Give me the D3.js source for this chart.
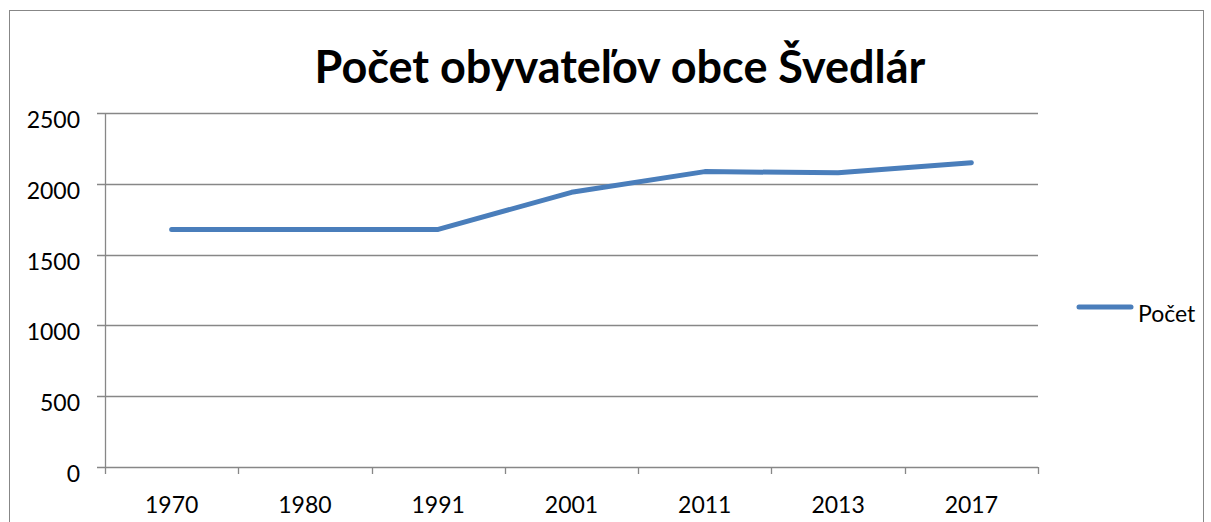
<!DOCTYPE html>
<html>
<head>
<meta charset="utf-8">
<script src="https://cdn.jsdelivr.net/npm/d3@7"></script>
<style>
  body { margin: 0; background: #fff; }
  text { font-family: Lato, "Open Sans", sans-serif; fill: #000; }
</style>
</head>
<body>
<svg id="chart" width="1211" height="522"></svg>
<script>
// data
var years = ['1970', '1980', '1991', '2001', '2011', '2013', '2017'];
var pocet = [1678, 1678, 1678, 1940, 2086, 2078, 2149];
var yTicks = [0, 500, 1000, 1500, 2000, 2500];
var title = 'Počet obyvateľov obce Švedlár';
var seriesName = 'Počet';

var svg = d3.select('#chart');
var lineColor = '#4a7ebb';
var gridColor = '#878787';

// outer chart border (bottom edge is cut off in the picture)
svg.append('rect')
  .attr('x', 9.5).attr('y', 10.5)
  .attr('width', 1194).attr('height', 540)
  .attr('fill', 'none').attr('stroke', gridColor).attr('stroke-width', 1);

var x = d3.scaleBand().domain(years).range([105, 1038]);
var y = d3.scaleLinear().domain([0, 2500]).range([467, 113]);

// gridlines + y tick marks
svg.append('g').selectAll('line.grid').data(yTicks).enter()
  .append('line')
  .attr('x1', 97).attr('x2', 1038)
  .attr('y1', function(d) { return Math.round(y(d)) + 0.5; })
  .attr('y2', function(d) { return Math.round(y(d)) + 0.5; })
  .attr('stroke', gridColor).attr('stroke-width', 1.3);

// y axis line
svg.append('line')
  .attr('x1', 105.5).attr('x2', 105.5)
  .attr('y1', y(2500)).attr('y2', y(0))
  .attr('stroke', gridColor).attr('stroke-width', 1.3);

// category tick marks at band edges
var edges = years.map(function(d) { return x(d); }).concat([x.range()[1]]);
svg.append('g').selectAll('line.tick').data(edges).enter()
  .append('line')
  .attr('x1', function(d) { return Math.round(d) + 0.5; })
  .attr('x2', function(d) { return Math.round(d) + 0.5; })
  .attr('y1', y(0)).attr('y2', y(0) + 7)
  .attr('stroke', gridColor).attr('stroke-width', 1.3);

// y labels
svg.append('g').selectAll('text').data(yTicks).enter()
  .append('text')
  .attr('x', 80)
  .attr('y', function(d) { return y(d) + 15; })
  .attr('text-anchor', 'end')
  .style('font-size', '23px')
  .text(function(d) { return d; });

// x labels
svg.append('g').selectAll('text').data(years).enter()
  .append('text')
  .attr('x', function(d) { return x(d) + x.bandwidth() / 2; })
  .attr('y', 513)
  .attr('text-anchor', 'middle')
  .style('font-size', '23px')
  .text(function(d) { return d; });

// series line
var line = d3.line()
  .x(function(d, i) { return x(years[i]) + x.bandwidth() / 2; })
  .y(function(d) { return y(d); });

svg.append('path')
  .datum(pocet)
  .attr('d', line)
  .attr('fill', 'none')
  .attr('stroke', lineColor)
  .attr('stroke-width', 5)
  .attr('stroke-linecap', 'round')
  .attr('stroke-linejoin', 'round');

// title
svg.append('text')
  .attr('x', 620).attr('y', 83)
  .attr('text-anchor', 'middle')
  .style('font-size', '45px')
  .style('font-weight', 'bold')
  .text(title);

// legend
svg.append('line')
  .attr('x1', 1079).attr('x2', 1131)
  .attr('y1', 307).attr('y2', 307)
  .attr('stroke', lineColor).attr('stroke-width', 5)
  .attr('stroke-linecap', 'round');
svg.append('text')
  .attr('x', 1138).attr('y', 322)
  .style('font-size', '23px')
  .text(seriesName);
</script>
</body>
</html>
